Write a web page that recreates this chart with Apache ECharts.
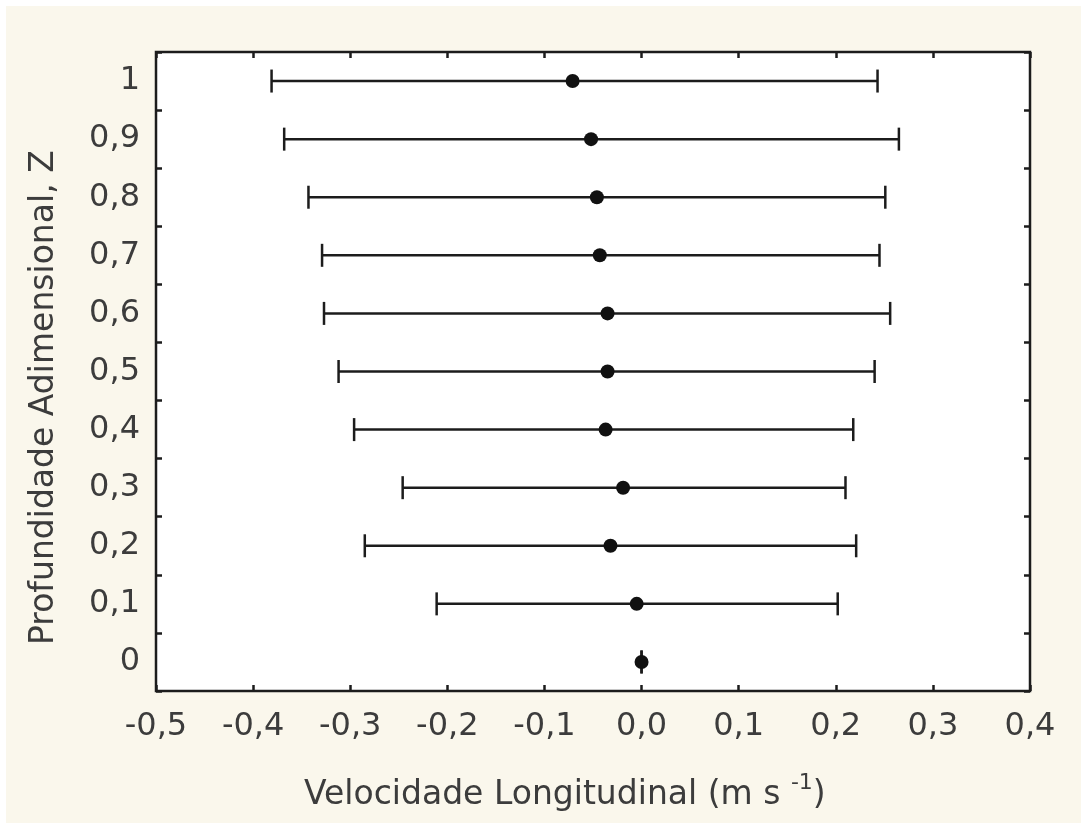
<!DOCTYPE html>
<html>
<head>
<meta charset="utf-8">
<script src="https://cdn.jsdelivr.net/npm/echarts@6/dist/echarts.min.js"></script>
<style>
  html, body { margin: 0; padding: 0; background: #ffffff; }
  #bg { position: absolute; left: 6px; top: 6px; width: 1075px; height: 817px; background: #faf7ec; }
  #chart { position: absolute; left: 0; top: 0; width: 1087px; height: 829px; }
</style>
</head>
<body>
<div id="bg"></div>
<div id="chart"></div>
<script>
// Depth categories (bottom to top)
var depthLabels = ['0', '0,1', '0,2', '0,3', '0,4', '0,5', '0,6', '0,7', '0,8', '0,9', '1'];
// Mean longitudinal velocity (m/s)
var meanValues = [0, -0.005, -0.032, -0.019, -0.037, -0.035, -0.035, -0.043, -0.046, -0.052, -0.071];
// Lower end of error bar
var lowerValues = [0, -0.211, -0.285, -0.246, -0.296, -0.312, -0.327, -0.329, -0.343, -0.368, -0.381];
// Upper end of error bar
var upperValues = [0, 0.202, 0.221, 0.210, 0.218, 0.240, 0.256, 0.245, 0.251, 0.265, 0.243];

var xMin = -0.5, xMax = 0.4, xStep = 0.1;
var xTitle = 'Velocidade Longitudinal (m s ';
var yTitle = 'Profundidade Adimensional, Z';

var textColor = '#3c3c3c';
var lineColor = '#1c1c1c';
var fontFam = 'DejaVu Sans';

var errData = depthLabels.map(function (d, i) { return [i, lowerValues[i], upperValues[i]]; });
var dotData = depthLabels.map(function (d, i) { return [meanValues[i], d]; });

function fmt(v) { return (Math.round(v * 10) / 10).toFixed(1).replace('.', ','); }

var tickStyle = { show: true, inside: true, length: 6, lineStyle: { color: lineColor, width: 2.5 } };

var chart = echarts.init(document.getElementById('chart'), null, { renderer: 'canvas' });
chart.setOption({
  backgroundColor: 'transparent',
  animation: false,
  grid: { left: 156, right: 57, top: 52, bottom: 138, show: true, backgroundColor: '#ffffff', borderColor: lineColor, borderWidth: 2.5 },
  xAxis: [{
    type: 'value', min: xMin, max: xMax, interval: xStep, position: 'bottom',
    axisLine: { show: false, onZero: false },
    axisTick: tickStyle,
    splitLine: { show: false },
    axisLabel: { margin: 20, color: textColor, fontFamily: fontFam, fontSize: 32, formatter: fmt }
  }, {
    type: 'value', min: xMin, max: xMax, interval: xStep, position: 'top',
    axisLine: { show: false, onZero: false },
    axisTick: tickStyle,
    splitLine: { show: false },
    axisLabel: { show: false }
  }],
  yAxis: [{
    type: 'category', data: depthLabels, boundaryGap: true, position: 'left',
    axisLine: { show: false, onZero: false },
    axisTick: { show: true, inside: true, length: 6, interval: 0, lineStyle: { color: lineColor, width: 2.5 } },
    splitLine: { show: false },
    axisLabel: { margin: 16, color: textColor, fontFamily: fontFam, fontSize: 32, interval: 0 }
  }, {
    type: 'category', data: depthLabels, boundaryGap: true, position: 'right',
    axisLine: { show: false, onZero: false },
    axisTick: { show: true, inside: true, length: 6, interval: 0, lineStyle: { color: lineColor, width: 2.5 } },
    splitLine: { show: false },
    axisLabel: { show: false }
  }],
  graphic: [{
    type: 'text', left: 304, top: 772,
    style: {
      text: xTitle + '{sup|-1}{n|)}',
      fill: textColor, font: '33px "DejaVu Sans"',
      rich: {
        sup: { fontSize: 22, fontFamily: fontFam, fill: textColor, padding: [0, 0, 24, 0], verticalAlign: 'bottom' },
        n: { fontSize: 33, fontFamily: fontFam, fill: textColor }
      }
    }
  }, {
    type: 'text', x: 28, y: 645, rotation: Math.PI / 2,
    style: { text: yTitle, fill: textColor, font: '33px "DejaVu Sans"', textVerticalAlign: 'top' }
  }],
  series: [{
    type: 'custom',
    xAxisIndex: 0, yAxisIndex: 0,
    data: errData,
    renderItem: function (params, api) {
      var cat = api.value(0);
      var lo = api.coord([api.value(1), cat]);
      var hi = api.coord([api.value(2), cat]);
      var h = 11.5;
      var st = { stroke: lineColor, lineWidth: 2.5, fill: null };
      return {
        type: 'group',
        children: [
          { type: 'line', shape: { x1: lo[0], y1: lo[1], x2: hi[0], y2: hi[1] }, style: st },
          { type: 'line', shape: { x1: lo[0], y1: lo[1] - h, x2: lo[0], y2: lo[1] + h }, style: st },
          { type: 'line', shape: { x1: hi[0], y1: hi[1] - h, x2: hi[0], y2: hi[1] + h }, style: st }
        ]
      };
    },
    encode: { x: [1, 2], y: 0 },
    z: 2
  }, {
    type: 'scatter',
    xAxisIndex: 0, yAxisIndex: 0,
    data: dotData,
    symbol: 'circle', symbolSize: 14,
    itemStyle: { color: '#111111', opacity: 1 },
    z: 3
  }]
});
</script>
</body>
</html>
